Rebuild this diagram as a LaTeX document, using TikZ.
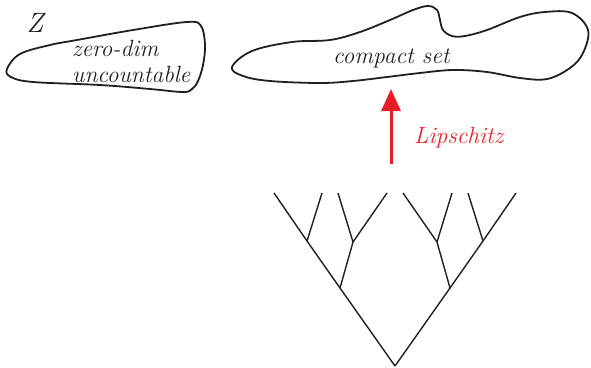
\documentclass[tikz,border=0pt]{standalone}
\usetikzlibrary{arrows.meta}
\definecolor{inkc}{RGB}{35,31,32}
\definecolor{redc}{RGB}{230,30,40}
\begin{document}
\begin{tikzpicture}[x=1pt,y=-1pt,
  blob/.style={draw=inkc,line width=1.8pt},
  branch/.style={draw=inkc,line width=1.4pt},
  lbl/.style={inner sep=0pt,text=inkc,font=\fontsize{23.5}{27}\selectfont\itshape},
  redlbl/.style={inner sep=0pt,text=redc,font=\fontsize{23.5}{27}\selectfont\itshape},
  lip/.style={draw=redc,line width=3pt,-{Triangle[length=22pt,width=19pt]}}]
\useasboundingbox (0,0) rectangle (591,367);
% blobs
\draw[blob] plot[smooth cycle,tension=0.6] coordinates {
 (7,69) (20,54) (50,45) (77,40) (133,30) (187,22) (201,26) (205,45) (203,65) (198,81)
 (192,89) (183,92) (150,89) (100,85) (33,82) (11,77)};
\draw[blob] plot[smooth cycle,tension=0.6] coordinates {
 (232,67) (252,51) (292,42) (330,40) (360,32) (390,20) (413,10) (428,6) (437,10) (440,20)
 (443,30) (452,36) (465,36) (487,30) (520,17) (545,12) (572,13) (588,30) (583,53)
 (570,68) (547,79) (520,78) (487,72) (453,70) (420,73) (387,77) (353,81) (320,83)
 (270,81) (243,76)};
% texts
\node[lbl,font=\fontsize{28}{30}\selectfont\itshape] (z) at (35,23) {Z};
\node[lbl,anchor=base west] (zd) at (72,56) {zero-dim};
\node[lbl,anchor=base west] (un) at (72,82) {uncountable};
\node[lbl,anchor=base west] (cs) at (333,63) {compact set};
\node[redlbl,anchor=base west] (lp) at (414,143) {Lipschitz};
% tree
\coordinate (r) at (395,366);
\coordinate (a) at (340,288);
\coordinate (b) at (450,288);
\coordinate (aa) at (307,241);
\coordinate (ab) at (353,242);
\coordinate (ba) at (437,242);
\coordinate (bb) at (483,241);
\coordinate (l1) at (274,193);
\coordinate (l2) at (322,193);
\coordinate (l3) at (338,193);
\coordinate (l4) at (387,193);
\coordinate (l5) at (403,193);
\coordinate (l6) at (452,193);
\coordinate (l7) at (468,193);
\coordinate (l8) at (516,193);
\draw[branch] (r) -- (a) -- (aa) -- (l1);
\draw[branch] (r) -- (b) -- (bb) -- (l8);
\draw[branch] (aa) -- (l2);
\draw[branch] (a) -- (ab) -- (l4);
\draw[branch] (ab) -- (l3);
\draw[branch] (b) -- (ba) -- (l5);
\draw[branch] (ba) -- (l6);
\draw[branch] (bb) -- (l7);
% arrow
\coordinate (as) at (391,164);
\coordinate (ae) at (391,89);
\draw[lip] (as) -- (ae);
\end{tikzpicture}
\end{document}
